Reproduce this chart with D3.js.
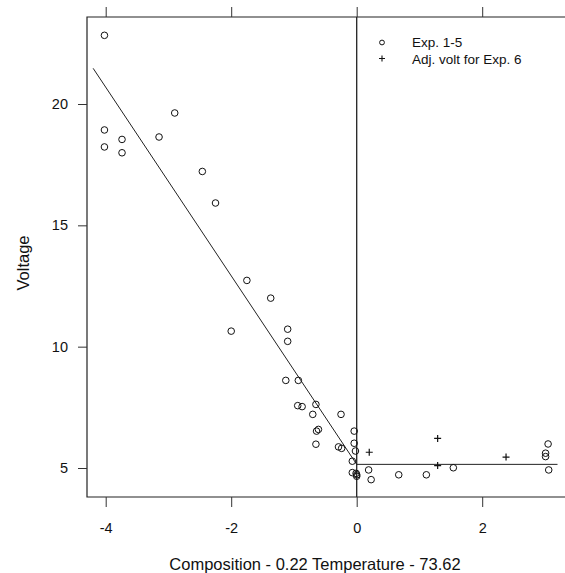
<!DOCTYPE html>
<meta charset="utf-8">
<html>
<head>
    <script src="https://d3js.org/d3.v7.min.js"></script>
    <style>
        body { margin: 0; background: #fff; }
        text { font-family: "Liberation Sans", Arial, sans-serif; fill: #111; }
    </style>
</head>
<body>
    <div id="chart"></div>
    <script>

        // data
        var expX = [-4.02, -4.02, -4.02, -3.74, -3.74, -3.15, -2.90, -2.46, -2.25, -1.75, -1.37, -2.00,
            -1.10, -1.10, -1.13, -0.93, -0.94, -0.87, -0.65, -0.70, -0.25, -0.64, -0.61, -0.65,
            -0.29, -0.24, -0.04, -0.04, -0.02, -0.07, -0.07, -0.01, 0.00, 0.00, 0.19, 0.23,
            0.67, 1.11, 1.54, 3.05, 3.01, 3.01, 3.06];
        var expV = [22.83, 18.93, 18.23, 18.54, 17.99, 18.64, 19.63, 17.22, 15.92, 12.73, 12.00, 10.64,
            10.72, 10.22, 8.61, 8.61, 7.57, 7.53, 7.62, 7.21, 7.21, 6.52, 6.59, 5.98,
            5.87, 5.81, 6.52, 6.02, 5.70, 5.28, 4.81, 4.78, 4.72, 4.66, 4.92, 4.52,
            4.72, 4.72, 5.01, 5.99, 5.61, 5.47, 4.92];
        var adjX = [0.20, 1.29, 1.29, 2.38];
        var adjV = [5.65, 6.22, 5.10, 5.45];

        // fitted broken line
        var fitX = [-4.2, 0, 3.2];
        var fitV = [21.47, 5.15, 5.15];

        var xTicks = [-4, -2, 0, 2];
        var yTicks = [5, 10, 15, 20];
        var legendLabels = ["Exp. 1-5", "Adj. volt for Exp. 6"];

        var width = 565, height = 573;
        var box = { left: 87, top: 17, right: 620, bottom: 497 };

        var svg = d3.select("#chart")
            .append("svg")
            .attr("width", width)
            .attr("height", height);

        var x = d3.scaleLinear().domain([-4, 2]).range([105.7, 482.2]);
        var y = d3.scaleLinear().domain([5, 20]).range([468, 104]);

        // plain hyphen like the original, not the unicode minus
        var fmt = function (d) { return String(d); };

        // box (right side runs off the page)
        svg.append("path")
            .attr("d", "M" + box.right + "," + box.top + "H" + box.left + "V" + box.bottom + "H" + box.right)
            .attr("fill", "none")
            .attr("stroke", "#222")
            .attr("stroke-width", 1.2);

        // bottom axis
        svg.append("g")
            .attr("transform", "translate(0," + box.bottom + ")")
            .call(d3.axisBottom(x).tickValues(xTicks).tickSize(10).tickPadding(16).tickFormat(fmt))
            .call(function (g) { g.select(".domain").remove(); })
            .call(function (g) {
                g.selectAll("text").style("font-size", "14.5px").style("font-family", "Liberation Sans, Arial, sans-serif").attr("fill", "#111");
                g.selectAll("line").attr("stroke", "#333");
            });

        // top ticks, no labels
        svg.append("g")
            .attr("transform", "translate(0," + box.top + ")")
            .call(d3.axisTop(x).tickValues(xTicks).tickSize(10).tickFormat(""))
            .call(function (g) { g.select(".domain").remove(); })
            .call(function (g) { g.selectAll("line").attr("stroke", "#333"); });

        // left axis
        svg.append("g")
            .attr("transform", "translate(" + box.left + ",0)")
            .call(d3.axisLeft(y).tickValues(yTicks).tickSize(9).tickPadding(10).tickFormat(fmt))
            .call(function (g) { g.select(".domain").remove(); })
            .call(function (g) {
                g.selectAll("text").style("font-size", "14.5px").style("font-family", "Liberation Sans, Arial, sans-serif").attr("fill", "#111");
                g.selectAll("line").attr("stroke", "#333");
            });

        // axis titles
        svg.append("text")
            .attr("x", 315)
            .attr("y", 570)
            .attr("text-anchor", "middle")
            .style("font-size", "16.5px")
            .text("Composition - 0.22 Temperature - 73.62");

        svg.append("text")
            .attr("transform", "translate(29,263) rotate(-90)")
            .attr("text-anchor", "middle")
            .style("font-size", "16.5px")
            .text("Voltage");

        // vertical reference line at 0
        svg.append("line")
            .attr("x1", x(0)).attr("x2", x(0))
            .attr("y1", box.top).attr("y2", box.bottom)
            .attr("stroke", "#222")
            .attr("stroke-width", 1.3);

        // fitted line
        var fit = fitX.map(function (d, i) { return [d, fitV[i]]; });
        svg.append("path")
            .datum(fit)
            .attr("fill", "none")
            .attr("stroke", "#222")
            .attr("stroke-width", 1)
            .attr("d", d3.line().x(function (d) { return x(d[0]); }).y(function (d) { return y(d[1]); }));

        // Exp. 1-5 circles
        var pts = expX.map(function (d, i) { return [d, expV[i]]; });
        svg.selectAll(".pt")
            .data(pts)
            .enter()
            .append("circle")
            .attr("class", "pt")
            .attr("cx", function (d) { return x(d[0]); })
            .attr("cy", function (d) { return y(d[1]); })
            .attr("r", 3.3)
            .attr("fill", "none")
            .attr("stroke", "#111")
            .attr("stroke-width", 1);

        // Exp. 6 pluses
        var adj = adjX.map(function (d, i) { return [d, adjV[i]]; });
        svg.selectAll(".adj")
            .data(adj)
            .enter()
            .append("path")
            .attr("class", "adj")
            .attr("transform", function (d) { return "translate(" + x(d[0]) + "," + y(d[1]) + ")"; })
            .attr("d", "M-3.5,0H3.5M0,-3.5V3.5")
            .attr("stroke", "#111")
            .attr("stroke-width", 1.2);

        // legend
        var lg = svg.append("g").attr("transform", "translate(382,0)");
        lg.append("circle")
            .attr("cx", 0).attr("cy", 42.5).attr("r", 2.4)
            .attr("fill", "none").attr("stroke", "#111");
        lg.append("path")
            .attr("d", "M-3,58.5H3M0,55.5V61.5")
            .attr("stroke", "#111").attr("stroke-width", 1.1);
        lg.selectAll(".lt")
            .data(legendLabels)
            .enter()
            .append("text")
            .attr("class", "lt")
            .attr("x", 30)
            .attr("y", function (d, i) { return 47 + i * 17; })
            .style("font-size", "13.5px")
            .text(function (d) { return d; });

    </script>
</body>
</html>
